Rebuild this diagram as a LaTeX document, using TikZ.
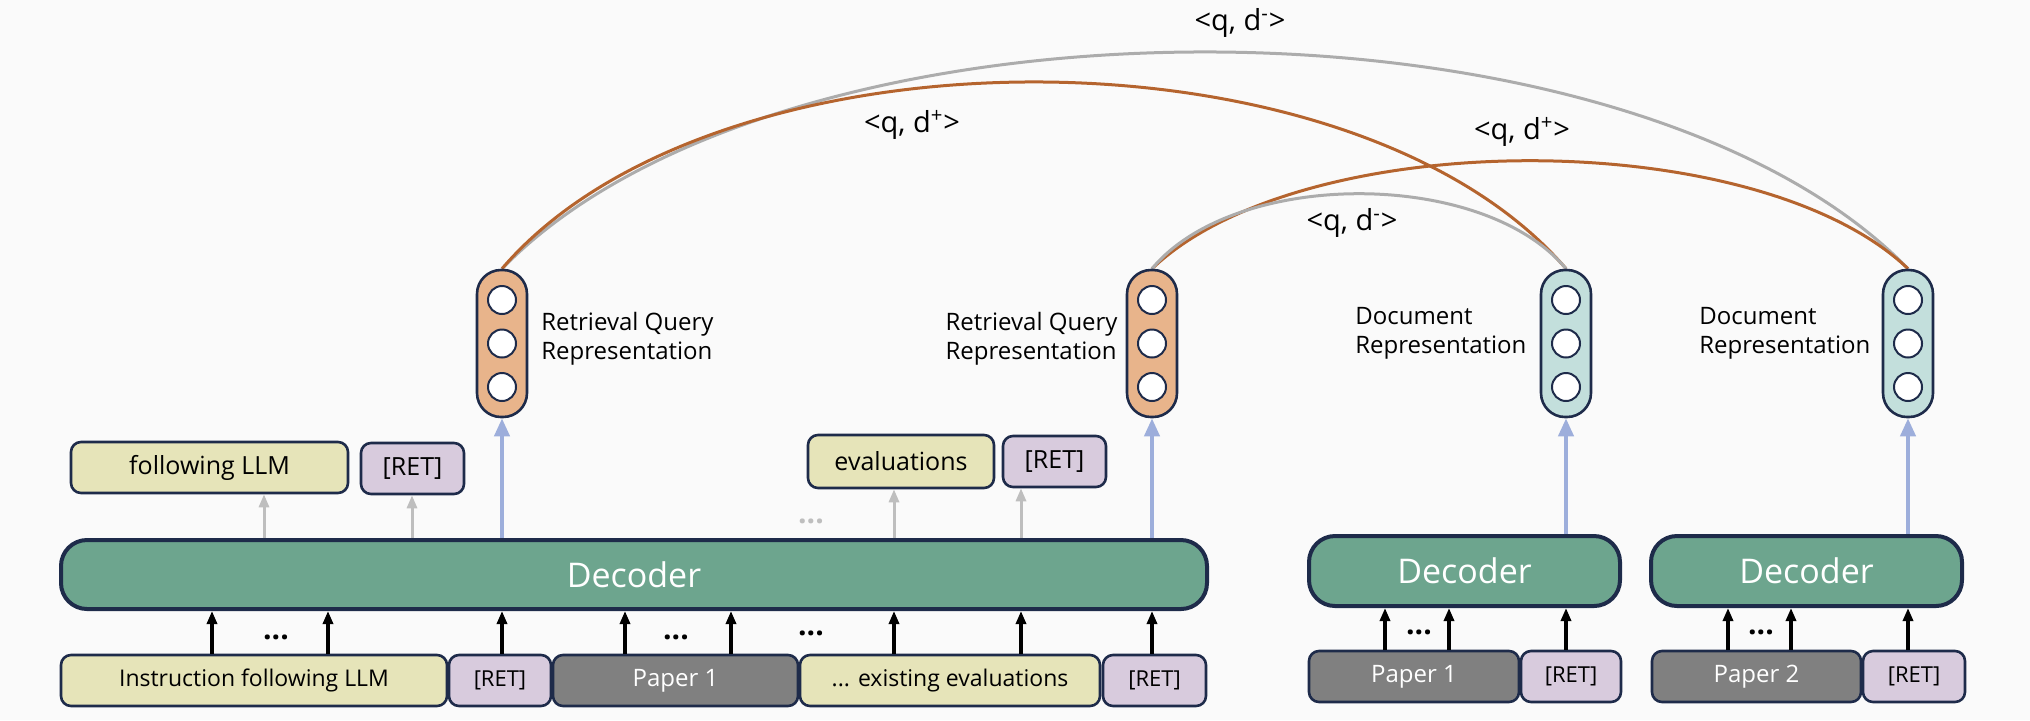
\documentclass[tikz,border=0pt]{standalone}
\usepackage{fontspec}
\setmainfont{Open Sans}
\usetikzlibrary{arrows.meta}
\definecolor{bg}{HTML}{FAFAFA}
\definecolor{edge}{HTML}{1E2B4A}
\definecolor{yel}{HTML}{E6E4B9}
\definecolor{lav}{HTML}{D8CBDD}
\definecolor{pap}{HTML}{808080}
\definecolor{dec}{HTML}{6DA58E}
\definecolor{qry}{HTML}{E8B48B}
\definecolor{docc}{HTML}{C3DFDC}
\definecolor{blu}{HTML}{9DAEDB}
\definecolor{gry}{HTML}{BEBEBE}
\definecolor{orn}{HTML}{B5642E}
\definecolor{arcg}{HTML}{ACACAC}
\pgfdeclarelayer{back}
\pgfdeclarelayer{arcs}
\pgfsetlayers{back,arcs,main}
\begin{document}
\begin{tikzpicture}[x=0.5pt,y=-0.5pt,
  box/.style={draw=edge, line width=1.3pt, rounded corners=5pt, inner sep=0pt, minimum height=25.5pt, font=\fontsize{11.5}{13}\selectfont},
  ybox/.style={box, fill=yel},
  rbox/.style={box, fill=lav, font=\fontsize{11}{13}\selectfont},
  pbox/.style={box, fill=pap, text=white, font=\fontsize{12}{13}\selectfont},
  topbox/.style={font=\fontsize{12.5}{14}\selectfont},
  decbox/.style={draw=edge, line width=2pt, rounded corners=13pt, fill=dec, text=white, font=\fontsize{17}{20}\selectfont, minimum height=34.5pt, inner sep=0pt},
  pill/.style={draw=edge, line width=1.3pt, rounded corners=12pt, minimum width=25pt, minimum height=73.5pt, inner sep=0pt},
  qpill/.style={pill, fill=qry},
  dpill/.style={pill, fill=docc},
  unit/.style={circle, draw=edge, fill=white, line width=1pt, minimum size=14pt, inner sep=0pt},
  lbl/.style={inner sep=0pt, align=left, font=\fontsize{12}{14.5}\selectfont},
  arclbl/.style={inner sep=0pt, font=\fontsize{14.5}{16}\selectfont},
  barrow/.style={draw=black, line width=1.6pt, -{Triangle[length=6.5pt,width=5pt]}},
  garrow/.style={draw=gry, line width=1.5pt, -{Triangle[length=6.5pt,width=5pt]}},
  barrowblue/.style={draw=blu, line width=2pt, -{Triangle[length=9pt,width=7.5pt]}},
  dots/.style={inner sep=0pt, font=\bfseries\fontsize{15}{15}\selectfont},
  arcline/.style={line width=1.5pt}
]
\useasboundingbox (0,0) rectangle (2030,720);
\begin{pgfonlayer}{back}
\fill[bg] (0,0) rectangle (2030,720);
\end{pgfonlayer}

% bottom inputs
\node[ybox, minimum width=193pt] (inst) at (254,680.5) {Instruction following LLM};
\node[rbox, minimum width=51pt] (ret1) at (500,680.5) {[RET]};
\node[pbox, minimum width=122.5pt] (pap1) at (675.5,680.5) {Paper 1};
\node[ybox, minimum width=150pt] (exev) at (950,680.5) {... existing evaluations};
\node[rbox, minimum width=51.5pt] (ret2) at (1154.5,680.5) {[RET]};
\node[pbox, minimum width=105pt] (papr1) at (1414,676.5) {Paper 1};
\node[rbox, minimum width=50pt] (retr1) at (1571,676.5) {[RET]};
\node[pbox, minimum width=104.5pt] (pap2) at (1756.5,676.5) {Paper 2};
\node[rbox, minimum width=51pt] (retr2) at (1914,676.5) {[RET]};

% decoders
\node[decbox, minimum width=573pt] (dec1) at (634,574.5) {Decoder};
\node[decbox, minimum width=155.5pt, minimum height=35pt] (dec2) at (1464.5,571) {Decoder};
\node[decbox, minimum width=155.5pt, minimum height=35pt] (dec3) at (1806.5,571) {Decoder};

% outputs
\node[ybox, topbox, minimum width=138.5pt] (fllm) at (209.5,467.5) {following LLM};
\node[rbox, topbox, minimum width=51.5pt] (rett1) at (412.5,468.5) {[RET]};
\node[ybox, topbox, minimum width=93pt, minimum height=26.5pt] (eval) at (901,461.5) {evaluations};
\node[rbox, topbox, minimum width=51.5pt] (rett2) at (1054.5,461.5) {[RET]};

% pills
\node[qpill] (q1) at (502,343.5) {};
\node[qpill] (q2) at (1152,343.5) {};
\node[dpill] (d1) at (1566,343.5) {};
\node[dpill] (d2) at (1908,343.5) {};
\foreach \p in {q1,q2,d1,d2}{
  \node[unit] (\p a) at ([yshift=21.75pt]\p.center) {};
  \node[unit] (\p b) at (\p.center) {};
  \node[unit] (\p c) at ([yshift=-21.75pt]\p.center) {};
}

% labels
\node[lbl, anchor=west] (lq1) at (541,338.5) {Retrieval Query\\Representation};
\node[lbl, anchor=east] (lq2) at (1118,338.5) {Retrieval Query\\Representation};
\node[lbl, anchor=west] (ld1) at (1355,333) {Document\\Representation};
\node[lbl, anchor=west] (ld2) at (1699,333) {Document\\Representation};

% dots
\node[dots] (dt1) at (276,637) {...};
\node[dots] (dt2) at (676,637) {...};
\node[dots] (dt3) at (811,633) {...};
\node[dots] (dt4) at (1419,632) {...};
\node[dots] (dt5) at (1761,632) {...};
\node[dots, text=gry] (dt6) at (811,521) {...};

% black input arrows
\foreach \x in {212,328} \draw[barrow] (inst.north -| \x,0) -- (dec1.south -| \x,0);
\draw[barrow] (ret1.north -| 502,0) -- (dec1.south -| 502,0);
\foreach \x in {625,731} \draw[barrow] (pap1.north -| \x,0) -- (dec1.south -| \x,0);
\foreach \x in {894,1021} \draw[barrow] (exev.north -| \x,0) -- (dec1.south -| \x,0);
\draw[barrow] (ret2.north -| 1152,0) -- (dec1.south -| 1152,0);
\foreach \x in {1385,1449} \draw[barrow] (papr1.north -| \x,0) -- (dec2.south -| \x,0);
\draw[barrow] (retr1.north -| 1566,0) -- (dec2.south -| 1566,0);
\foreach \x in {1728,1791} \draw[barrow] (pap2.north -| \x,0) -- (dec3.south -| \x,0);
\draw[barrow] (retr2.north -| 1908,0) -- (dec3.south -| 1908,0);

% grey output arrows
\draw[garrow] (dec1.north -| 264,0) -- (fllm.south -| 264,0);
\draw[garrow] (dec1.north -| 412,0) -- (rett1.south -| 412,0);
\draw[garrow] (dec1.north -| 894,0) -- (eval.south -| 894,0);
\draw[garrow] (dec1.north -| 1021,0) -- (rett2.south -| 1021,0);

% blue arrows
\draw[barrowblue] (dec1.north -| q1.south) -- (q1.south);
\draw[barrowblue] (dec1.north -| q2.south) -- (q2.south);
\draw[barrowblue] (dec2.north -| d1.south) -- (d1.south);
\draw[barrowblue] (dec3.north -| d2.south) -- (d2.south);

% arcs
\begin{pgfonlayer}{arcs}
\draw[arcline, draw=arcg] (q1.north) .. controls +(281,-289) and +(-281,-289) .. (d2.north);
\draw[arcline, draw=orn] (q1.north) .. controls +(213,-249) and +(-213,-249) .. (d1.north);
\draw[arcline, draw=orn] (q2.north) .. controls +(151,-144) and +(-151,-144) .. (d2.north);
\draw[arcline, draw=arcg] (q2.north) .. controls +(83,-100) and +(-83,-100) .. (d1.north);
\end{pgfonlayer}
\node[arclbl] (a1) at (1240,23) {<q, d\textsuperscript{-}>};
\node[arclbl] (a2) at (912,125) {<q, d\textsuperscript{+}>};
\node[arclbl] (a3) at (1522,132) {<q, d\textsuperscript{+}>};
\node[arclbl] (a4) at (1352,223) {<q, d\textsuperscript{-}>};
\end{tikzpicture}
\end{document}
